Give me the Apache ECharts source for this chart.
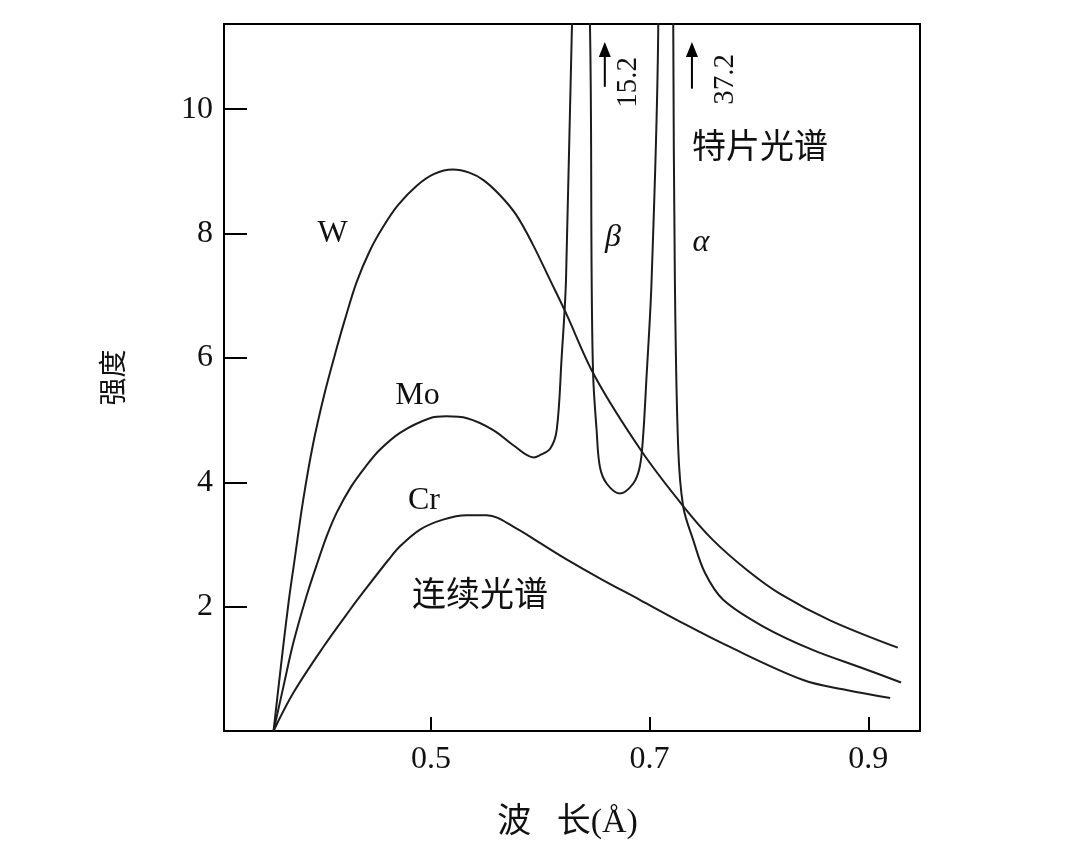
<!DOCTYPE html>
<html>
<head>
<meta charset="utf-8">
<script src="https://cdn.jsdelivr.net/npm/echarts@6/dist/echarts.min.js"></script>
<style>
  html, body { margin: 0; padding: 0; background: #fff; }
  #chart { width: 1084px; height: 848px; }
</style>
</head>
<body>
<div id="chart"></div>
<script>
// 刻度
const xTicks = [0.5, 0.7, 0.9]
const yTicks = [2, 4, 6, 8, 10]

// 曲线数据 [波长(Å), 强度]
const wData = [
  [0.356, 0], [0.360, 0.62], [0.365, 1.38], [0.370, 2.1], [0.375, 2.72],
  [0.383, 3.7], [0.392, 4.6], [0.403, 5.45], [0.414, 6.17], [0.421, 6.6],
  [0.432, 7.22], [0.444, 7.72], [0.456, 8.1], [0.470, 8.46], [0.487, 8.77],
  [0.503, 8.96], [0.520, 9.03], [0.535, 8.98], [0.548, 8.86], [0.563, 8.62],
  [0.578, 8.3], [0.593, 7.83], [0.609, 7.25], [0.623, 6.74], [0.650, 5.70],
  [0.693, 4.49], [0.731, 3.61], [0.758, 3.07], [0.789, 2.59], [0.819, 2.21],
  [0.865, 1.78], [0.927, 1.34]
]
const moData = [
  [0.356, 0], [0.365, 0.71], [0.374, 1.41], [0.386, 2.16], [0.397, 2.75],
  [0.405, 3.15], [0.414, 3.52], [0.427, 3.93], [0.441, 4.27], [0.453, 4.52],
  [0.472, 4.8], [0.499, 5.03], [0.514, 5.06], [0.533, 5.03], [0.557, 4.84],
  [0.575, 4.60], [0.594, 4.40], [0.600, 4.44], [0.609, 4.54], [0.615, 4.84],
  [0.6195, 6.0], [0.6235, 7.25], [0.629, 11.37], [0.637, 15.2], [0.6454, 11.37],
  [0.647, 7.25], [0.6484, 5.70], [0.6515, 4.84], [0.6545, 4.25], [0.6607, 3.98],
  [0.6728, 3.82], [0.685, 3.98], [0.691, 4.25], [0.694, 4.73], [0.697, 5.64],
  [0.7018, 7.25], [0.7079, 11.37], [0.7146, 37.2], [0.7216, 11.37], [0.7231, 7.25],
  [0.7261, 4.57], [0.7307, 3.61], [0.7399, 3.07], [0.7507, 2.54], [0.7673, 2.11],
  [0.804, 1.68], [0.8496, 1.30], [0.895, 1.01], [0.930, 0.78]
]
const crData = [
  [0.356, 0], [0.374, 0.61], [0.4015, 1.35], [0.426, 1.95], [0.441, 2.3],
  [0.461, 2.75], [0.4717, 2.97], [0.490, 3.24], [0.511, 3.40], [0.5326, 3.47],
  [0.551, 3.47], [0.578, 3.26], [0.600, 3.02], [0.624, 2.76], [0.656, 2.44],
  [0.691, 2.11], [0.7277, 1.76], [0.770, 1.38], [0.8405, 0.82], [0.880, 0.66],
  [0.920, 0.53]
]

const serif = '"Liberation Serif", "Noto Sans CJK SC", serif'
const lineColor = '#1c1c1c'

const chart = echarts.init(document.getElementById('chart'))

const makeSeries = (name, data) => ({
  name,
  type: 'line',
  data,
  smooth: 0.35,
  showSymbol: false,
  clip: true,
  lineStyle: { color: lineColor, width: 2 },
  emphasis: { disabled: true }
})

chart.setOption({
  animation: false,
  backgroundColor: '#fff',
  grid: {
    left: 224, top: 24, right: 164, bottom: 117,
    show: true, borderColor: '#000', borderWidth: 2
  },
  xAxis: {
    type: 'value',
    min: 0.3107,
    max: 0.9473,
    name: '波   长(Å)',
    nameLocation: 'middle',
    nameGap: 75,
    nameTextStyle: { fontFamily: serif, fontSize: 34, color: '#111', padding: [0, 9, 0, 0] },
    axisLine: { lineStyle: { color: '#000', width: 2 } },
    axisTick: { inside: true, length: 14, customValues: xTicks, lineStyle: { color: '#000', width: 2 } },
    axisLabel: { customValues: xTicks, margin: 13, fontFamily: serif, fontSize: 32, color: '#111' },
    splitLine: { show: false }
  },
  yAxis: {
    type: 'value',
    min: 0,
    max: 11.37,
    name: '强度',
    nameLocation: 'middle',
    nameGap: 94,
    nameRotate: 90,
    nameTextStyle: { fontFamily: serif, fontSize: 28, color: '#111' },
    axisLine: { lineStyle: { color: '#000', width: 2 } },
    axisTick: { inside: true, length: 23, customValues: yTicks, lineStyle: { color: '#000', width: 2 } },
    axisLabel: { customValues: yTicks, margin: 11, fontFamily: serif, fontSize: 32, color: '#111' },
    splitLine: { show: false }
  },
  series: [
    makeSeries('W', wData),
    makeSeries('Mo', moData),
    makeSeries('Cr', crData)
  ]
})

// 注释文字和箭头（用数据坐标定位）
const px = (x, y) => chart.convertToPixel({ gridIndex: 0 }, [x, y])

const label = (text, x, y, font, rotate) => {
  const p = px(x, y)
  return {
    type: 'text', x: p[0], y: p[1], rotation: rotate ? Math.PI / 2 : 0,
    silent: true,
    style: { text, font, fill: '#111', textAlign: 'center', textVerticalAlign: 'middle' }
  }
}

const arrow = (x, y0, y1) => {
  const a = px(x, y0)
  const b = px(x, y1)
  return {
    type: 'group', silent: true,
    children: [
      { type: 'line', shape: { x1: a[0], y1: a[1], x2: b[0], y2: b[1] + 12 }, style: { stroke: '#000', lineWidth: 2 } },
      { type: 'polygon', shape: { points: [[b[0], b[1]], [b[0] - 6, b[1] + 15], [b[0] + 6, b[1] + 15]] }, style: { fill: '#000' } }
    ]
  }
}

chart.setOption({
  graphic: [
    label('W', 0.410, 8.0, '32px "Liberation Serif"'),
    label('Mo', 0.4877, 5.39, '32px "Liberation Serif"'),
    label('Cr', 0.4936, 3.70, '32px "Liberation Serif"'),
    label('连续光谱', 0.5448, 2.22, '34px "Noto Sans CJK SC"'),
    label('β', 0.6665, 7.94, 'italic 32px "Liberation Serif"'),
    label('α', 0.747, 7.86, 'italic 32px "Liberation Serif"'),
    label('特片光谱', 0.801, 9.42, '34px "Noto Sans CJK SC"'),
    label('15.2', 0.681, 10.43, '29px "Liberation Serif"', true),
    label('37.2', 0.769, 10.48, '29px "Liberation Serif"', true),
    arrow(0.659, 10.36, 11.08),
    arrow(0.7387, 10.33, 11.08)
  ]
})
</script>
</body>
</html>
